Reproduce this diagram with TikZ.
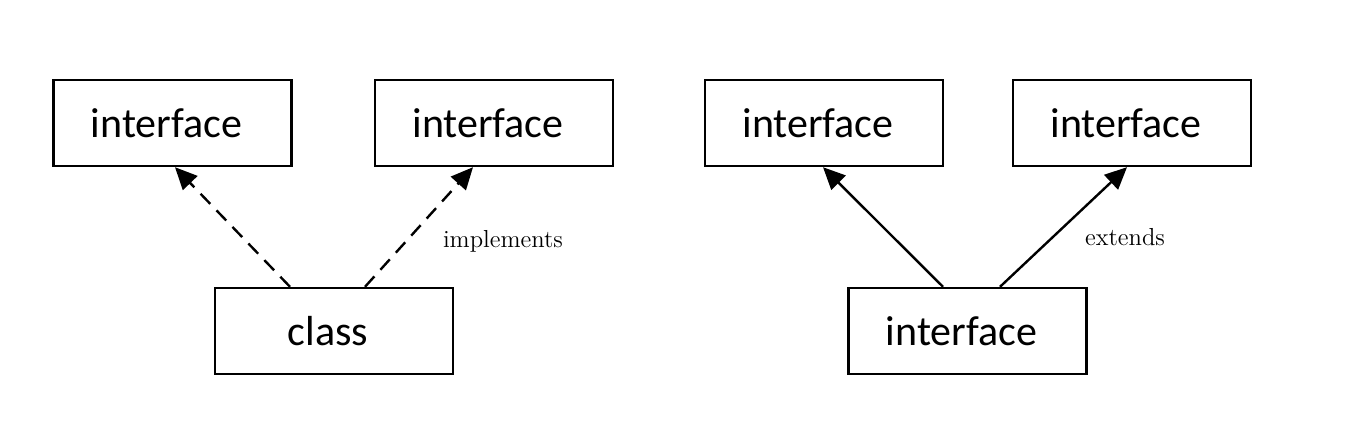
\documentclass[tikz,border=0pt]{standalone}
\usepackage{fontspec}
\newfontfamily\boxfont{Carlito}
\usetikzlibrary{arrows.meta}
\begin{document}
\begin{tikzpicture}[x=0.5pt, y=-0.5pt, >={Triangle[length=11pt,width=10pt]},
    block/.style={draw, line width=1.2pt, minimum width=119pt, minimum height=43pt, inner sep=0pt,
        font=\boxfont\fontsize{21}{25}\selectfont, execute at end node={\hspace{6pt}}},
    link/.style={->, line width=1.2pt},
    lbl/.style={font=\fontsize{12.3}{14}\selectfont, inner sep=0pt}]
    \useasboundingbox (0,0) rectangle (1363,435);

    % class implementiert zwei Interfaces
    \node[block] (ifa) at (172.5, 123) {interface};
    \node[block] (ifb) at (494, 123) {interface};
    \node[block] (cls) at (334, 331) {class};

    \draw[link, dash pattern=on 7pt off 4.5pt] ([xshift=-22pt]cls.north) -- ([xshift=1.25pt]ifa.south);
    \draw[link, dash pattern=on 7pt off 4.5pt] ([xshift=15.5pt]cls.north) -- ([xshift=-10.5pt]ifb.south);
    \node[lbl] (impl) at (503, 241) {implements};

    % interface erweitert zwei Interfaces
    \node[block] (ifc) at (824, 123) {interface};
    \node[block] (ifd) at (1132, 123) {interface};
    \node[block] (ife) at (967.5, 331) {interface};

    \draw[link] ([xshift=-12.25pt]ife.north) -- ([xshift=-0.5pt]ifc.south);
    \draw[link] ([xshift=16.25pt]ife.north) -- ([xshift=-2.5pt]ifd.south);
    \node[lbl] (ext) at (1125, 237) {extends};
\end{tikzpicture}
\end{document}
